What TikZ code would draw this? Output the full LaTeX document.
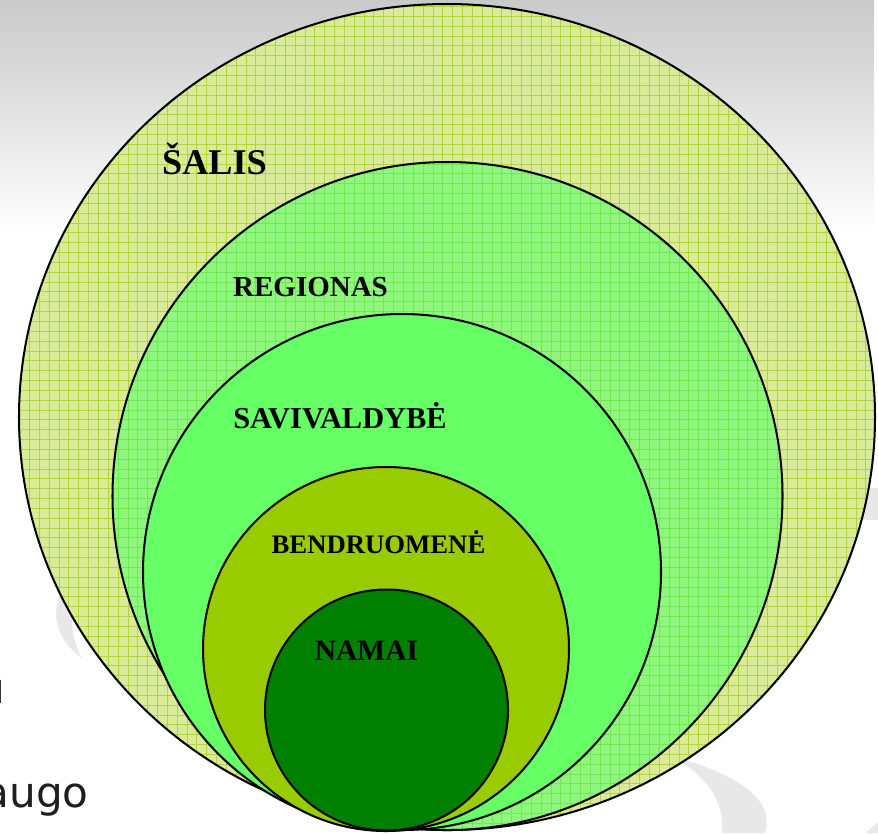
\documentclass[tikz,border=0pt]{standalone}
\usepackage{fontspec}
\setmainfont{Liberation Serif}
\newfontfamily\slidefont{DejaVu Sans}
\usetikzlibrary{patterns.meta}
\definecolor{salisbg}{HTML}{D9EB98}
\definecolor{salisln}{HTML}{B2D53E}
\definecolor{regionbg}{HTML}{90F67E}
\definecolor{regionln}{HTML}{6CEC50}
\definecolor{savival}{HTML}{66FF66}
\definecolor{bendr}{HTML}{99CC00}
\definecolor{namai}{HTML}{007F00}
\definecolor{swoosh}{HTML}{E8E8E8}

\begin{document}
\begin{tikzpicture}[x=0.02cm,y=-0.02cm,
  ring/.style={draw=black,line width=1.15pt},
  gridfill/.style 2 args={preaction={fill=#1},
    pattern={Hatch[angle=0,distance=5.6pt,line width=0.45pt]},pattern color=#2},
  salisfill/.style={gridfill={salisbg}{salisln}},
  regionfill/.style={gridfill={regionbg}{regionln}},
  savivalfill/.style={fill=savival},
  bendrfill/.style={fill=bendr},
  namaifill/.style={fill=namai},
  lbl/.style={font=\bfseries,anchor=base,inner sep=0pt}]
\useasboundingbox (0,0) rectangle (878,833);
\clip (0,0) rectangle (878,833);
% slide background
\shade[top color=black!21,bottom color=white] (0,0) rectangle (874,235);
\fill[swoosh] (118,544) .. controls (55,568) and (35,625) .. (82,658)
  .. controls (62,622) and (72,578) .. (118,544);
\fill[swoosh] (672,756) .. controls (740,775) and (775,800) .. (765,833)
  -- (722,833) .. controls (725,800) and (705,775) .. (672,756);
\fill[swoosh] (790,490) -- (878,488) -- (878,520) -- (790,518) -- cycle;
\fill[swoosh] (866,833) -- (878,822) -- (878,833) -- cycle;
\node[font=\slidefont\fontsize{24}{28}\selectfont,text=black!88,anchor=base east,inner sep=0pt] (txt1) at (89,807) {augo};
\node[font=\slidefont\fontsize{24}{28}\selectfont,text=black!88,anchor=base east,inner sep=0pt] (txt2) at (6,703) {u};
% nested circles
\foreach \n/\x/\rx/\ry/\s in{
1/{(447,417)}/428/413/salisfill,
2/{(447.5,496)}/335/334/regionfill,
3/{(402,572)}/259/258/savivalfill,
4/{(386,649)}/183/182/bendrfill,
5/{(386.5,710)}/121.5/120.5/namaifill}
{
        \draw[ring,\s] \x ellipse [x radius=\rx,y radius=\ry];
    }
% labels
\foreach \n/\x/\f/\l in{
salis/{(214.5,174)}/20.6/{ŠALIS},
regionas/{(310.5,296)}/16.5/{REGIONAS},
savival/{(340,428)}/17.3/{SAVIVALDYBĖ},
bendr/{(378.5,553)}/15.2/{BENDRUOMENĖ},
namai/{(366.5,660)}/16.8/{NAMAI}}
{
        \node[lbl,font=\fontsize{\f}{\f}\selectfont\bfseries] (\n) at \x {\l};
    }
\end{tikzpicture}
\end{document}
